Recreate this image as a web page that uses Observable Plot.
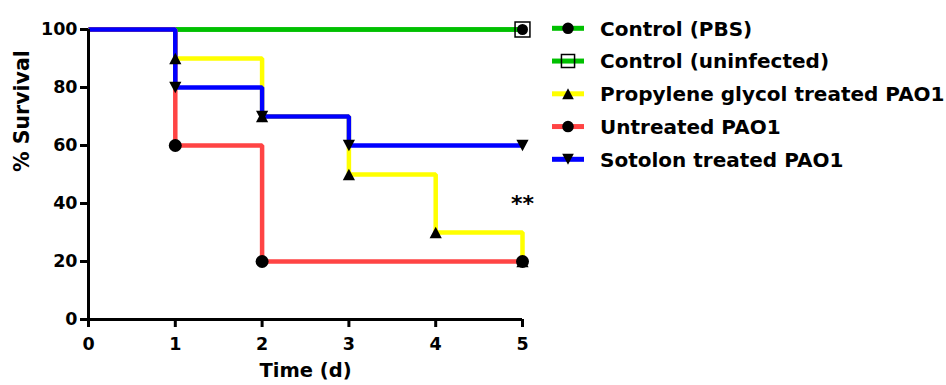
<!DOCTYPE html>
<html><head><meta charset="utf-8">
<script src="https://cdn.jsdelivr.net/npm/d3@7"></script>
<script src="https://cdn.jsdelivr.net/npm/@observablehq/plot@0.6"></script>
<style>
body{margin:0;background:#fff;}
#chart{position:relative;width:946px;height:385px;overflow:hidden;}
#chart svg{display:block;}
#legend{position:absolute;left:0;top:0;}
</style></head><body><div id="chart"></div>
<script>
// ---- data ----
const days = [0, 1, 2, 3, 4, 5];
const seriesNames = ["Control (PBS)", "Control (uninfected)", "Propylene glycol treated PAO1", "Untreated PAO1", "Sotolon treated PAO1"];
const pbs        = [100, 100, 100, 100, 100, 100];
const uninfected = [100, 100, 100, 100, 100, 100];
const propylene  = [100,  90,  70,  50,  30,  20];
const untreated  = [100,  60,  20,  20,  20,  20];
const sotolon    = [100,  80,  70,  60,  60,  60];
const yTicks = [0, 20, 40, 60, 80, 100];
const xTicks = [0, 1, 2, 3, 4, 5];
const sigDay = 5, sigValue = 40, sigLabel = "**";

// ---- styling ----
const FONT = "'DejaVu Sans', Verdana, sans-serif";
const colors = ["#00C000", "#00C000", "#FFFF00", "#FF4444", "#0000FF"];
// bbox-centred triangles (as drawn in the reference)
const triUp = {draw(ctx, size) {
  const r = Math.sqrt(size / Math.PI), w = r, h = 0.95 * r;
  ctx.moveTo(0, -h); ctx.lineTo(w, h); ctx.lineTo(-w, h); ctx.closePath();
}};
const triDown = {draw(ctx, size) {
  const r = Math.sqrt(size / Math.PI), w = r, h = 0.95 * r;
  ctx.moveTo(0, h); ctx.lineTo(w, -h); ctx.lineTo(-w, -h); ctx.closePath();
}};
const markerDef = [
  {symbol: d3.symbolCircle, r: 5.5, lr: 5.8, fill: "black", stroke: "none"},
  {symbol: d3.symbolSquare, r: 8.4, lr: 7.4, fill: "none", stroke: "black"},
  {symbol: triUp, r: 6.1, lr: 5.8, fill: "black", stroke: "none"},
  {symbol: d3.symbolCircle, r: 6.5, lr: 5.8, fill: "black", stroke: "none"},
  {symbol: triDown, r: 6.1, lr: 5.8, fill: "black", stroke: "none"}
];

const allValues = [pbs, uninfected, propylene, untreated, sotolon];
const rows = [];
allValues.forEach((vals, s) => vals.forEach((v, i) => rows.push({series: seriesNames[s], s, day: days[i], value: v, i})));
const isMarker = d => {
  const vals = allValues[d.s];
  return d.i > 0 && (vals[d.i] !== vals[d.i - 1] || d.i === vals.length - 1);
};

const lineMarks = seriesNames.map((name, s) =>
  Plot.line(rows.filter(d => d.s === s), {x: "day", y: "value", curve: "step-after", stroke: colors[s], strokeWidth: 4.5, strokeLinejoin: "miter", strokeLinecap: "butt"}));
const markerOrder = [1, 0, 2, 3, 4];
const dotMarks = markerOrder.map(s => {
  const m = markerDef[s];
  return Plot.dot(rows.filter(d => d.s === s && isMarker(d)), {x: "day", y: "value", symbol: () => m.symbol, r: m.r, fill: m.fill, stroke: m.stroke, strokeWidth: 1.5});
});

const chart = Plot.plot({
  width: 946, height: 385,
  marginLeft: 88, marginRight: 424, marginTop: 29, marginBottom: 66,
  style: {fontFamily: FONT, fontSize: "17px", fontWeight: "bold", color: "black", background: "white", overflow: "visible"},
  x: {domain: [0, 5], label: null},
  y: {domain: [0, 100], label: null},
  symbol: {type: "identity"},
  marks: [
    ...lineMarks,
    ...dotMarks,
    Plot.ruleX([0], {strokeWidth: 3, stroke: "black"}),
    Plot.ruleY([0], {strokeWidth: 3, stroke: "black"}),
    Plot.axisY(yTicks, {tickSize: 8, tickPadding: 3, strokeWidth: 3, fontSize: 17.5, fontWeight: "bold", label: null}),
    Plot.axisX(xTicks, {tickSize: 8, tickPadding: 10, strokeWidth: 3, fontSize: 17.5, fontWeight: "bold", label: null}),
    Plot.text(["% Survival"], {text: d => d, frameAnchor: "left", rotate: -90, dx: -66, dy: -2.5, fontSize: 20.5, fontWeight: "bold"}),
    Plot.text(["Time (d)"], {text: d => d, frameAnchor: "bottom", dy: 57, fontSize: 19.5, fontWeight: "bold"}),
    Plot.text([{day: sigDay, value: sigValue, label: sigLabel}], {x: "day", y: "value", text: "label", fontSize: 22, fontWeight: "bold"})
  ]
});
document.getElementById("chart").appendChild(chart);

// ---- legend (overlay) ----
const lg = d3.select("#chart").append("svg").attr("id", "legend")
  .attr("width", 946).attr("height", 385)
  .style("font-family", FONT);
seriesNames.forEach((name, s) => {
  const g = lg.append("g").attr("transform", `translate(0,${28.3 + s * 32.75})`);
  g.append("line").attr("x1", 552).attr("x2", 584).attr("y1", 0).attr("y2", 0)
    .attr("stroke", colors[s]).attr("stroke-width", 5);
  const m = markerDef[s];
  g.append("path").attr("transform", "translate(568,0)")
    .attr("d", d3.symbol(m.symbol, Math.PI * m.lr * m.lr)())
    .attr("fill", m.fill).attr("stroke", m.stroke).attr("stroke-width", 1.5);
  g.append("text").attr("x", 600).attr("y", 0).attr("dy", "0.365em")
    .attr("font-size", 20).attr("font-weight", "bold").attr("fill", "black").text(name);
});
</script></body></html>
